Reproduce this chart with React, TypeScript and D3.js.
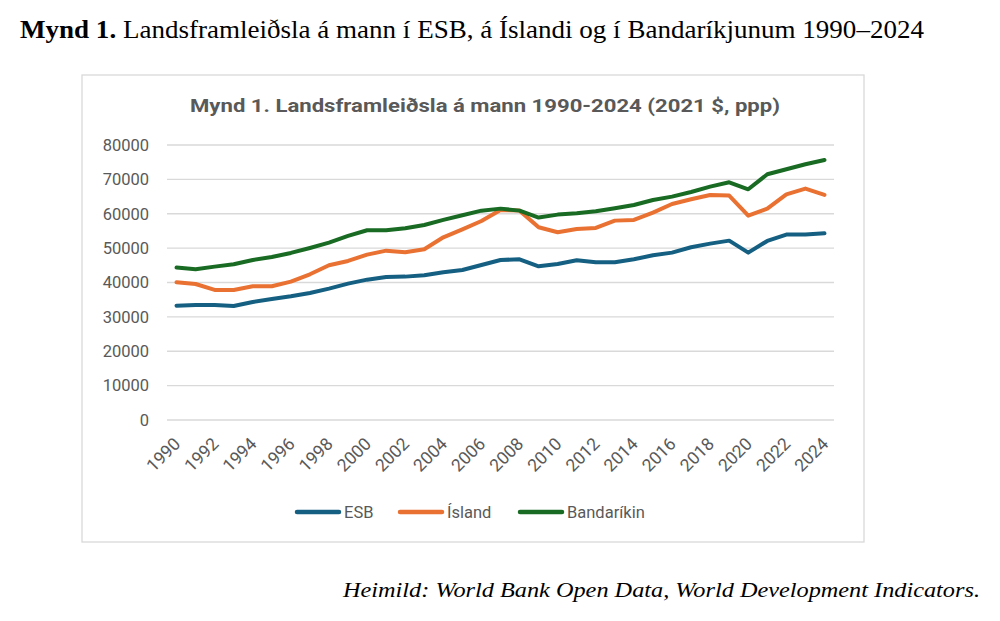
import React from "react";
import * as d3 from "d3";

const years = d3.range(1990, 2025);
const tickYears = years.filter((y) => (y - 1990) % 2 === 0);
const yTicks = [0, 10000, 20000, 30000, 40000, 50000, 60000, 70000, 80000];

const esb = [
  33270, 33460, 33460, 33170, 34340, 35210, 35980, 36950, 38220, 39670,
  40830, 41610, 41710, 42100, 42970, 43650, 45100, 46560, 46750, 44710,
  45390, 46460, 45880, 45880, 46750, 47910, 48690, 50240, 51310, 52180,
  48690, 52090, 53930, 53930, 54320,
];
const island = [
  40060, 39570, 37830, 37830, 38890, 38890, 40250, 42390, 45000, 46270,
  48110, 49270, 48790, 49660, 53150, 55480, 57900, 61110, 60910, 56060,
  54610, 55580, 55870, 58000, 58200, 60330, 62850, 64210, 65470, 65280,
  59460, 61490, 65660, 67310, 65470,
];
const usa = [
  44330, 43840, 44620, 45300, 46560, 47430, 48600, 50050, 51600, 53540,
  55190, 55190, 55770, 56740, 58200, 59550, 60900, 61490, 60910, 58880,
  59750, 60140, 60720, 61590, 62560, 64010, 64980, 66340, 67890, 69160,
  67120, 71480, 72940, 74390, 75650,
];

const seriesNames = ["ESB", "Ísland", "Bandaríkin"];
const seriesValues = [esb, island, usa];
const seriesColors = ["#156082", "#E97132", "#196B24"];

const sans = "Roboto, 'Noto Sans', sans-serif";
const serif = "'Liberation Serif', 'DejaVu Serif', serif";

export default function App() {
  const width = 1000;
  const height = 621;

  const x = d3.scalePoint<number>().domain(years).range([167, 834]).padding(0.5);
  const y = d3.scaleLinear().domain([0, 80000]).range([420, 145]);

  const line = d3
    .line<number>()
    .x((_, i) => x(years[i]) as number)
    .y((d) => y(d));

  // legend item left edges
  const legendX = [295, 398, 518];

  return (
    <svg
      width={width}
      height={height}
      style={{ position: "absolute", left: 0, top: 0, background: "#fff" }}
    >
      <text x={20} y={38} fontFamily={serif} fontSize={25} fill="#000" textLength={904} lengthAdjust="spacingAndGlyphs">
        <tspan fontWeight="bold">Mynd 1.</tspan>
        <tspan> Landsframleiðsla á mann í ESB, á Íslandi og í Bandaríkjunum 1990–2024</tspan>
      </text>

      <rect x={82} y={75} width={782} height={467} fill="#fff" stroke="#d9d9d9" strokeWidth={1.3} />

      <text
        x={485}
        y={112}
        textAnchor="middle"
        fontFamily={sans}
        fontWeight="bold"
        fontSize={18.5}
        fill="#595959"
        textLength={590}
        lengthAdjust="spacingAndGlyphs"
      >
        Mynd 1. Landsframleiðsla á mann 1990-2024 (2021 $, ppp)
      </text>

      {yTicks.map((t) => (
        <g key={t}>
          <line x1={167} x2={834} y1={y(t)} y2={y(t)} stroke="#d9d9d9" strokeWidth={1.3} />
          <text
            x={149}
            y={y(t)}
            dy="0.35em"
            textAnchor="end"
            fontFamily={sans}
            fontSize={16.5}
            fill="#595959"
          >
            {t}
          </text>
        </g>
      ))}

      {tickYears.map((yr) => (
        <text
          key={yr}
          transform={`translate(${(x(yr) as number) + 5},${445}) rotate(-45)`}
          textAnchor="end"
          fontFamily={sans}
          fontSize={17.5}
          fill="#595959"
        >
          {yr}
        </text>
      ))}

      {seriesValues.map((vals, i) => (
        <path
          key={seriesNames[i]}
          d={line(vals) ?? ""}
          fill="none"
          stroke={seriesColors[i]}
          strokeWidth={4}
          strokeLinejoin="round"
          strokeLinecap="round"
        />
      ))}

      {seriesNames.map((name, i) => (
        <g key={name} transform={`translate(${legendX[i]},512)`}>
          <line x1={2} x2={44} y1={0} y2={0} stroke={seriesColors[i]} strokeWidth={4.5} strokeLinecap="round" />
          <text x={49} y={0} dy="0.35em" fontFamily={sans} fontSize={16.5} fill="#595959">
            {name}
          </text>
        </g>
      ))}

      <text
        x={343}
        y={597}
        fontFamily={serif}
        fontStyle="italic"
        fontSize={22}
        fill="#000"
        textLength={637}
        lengthAdjust="spacingAndGlyphs"
      >
        Heimild: World Bank Open Data, World Development Indicators.
      </text>
    </svg>
  );
}
